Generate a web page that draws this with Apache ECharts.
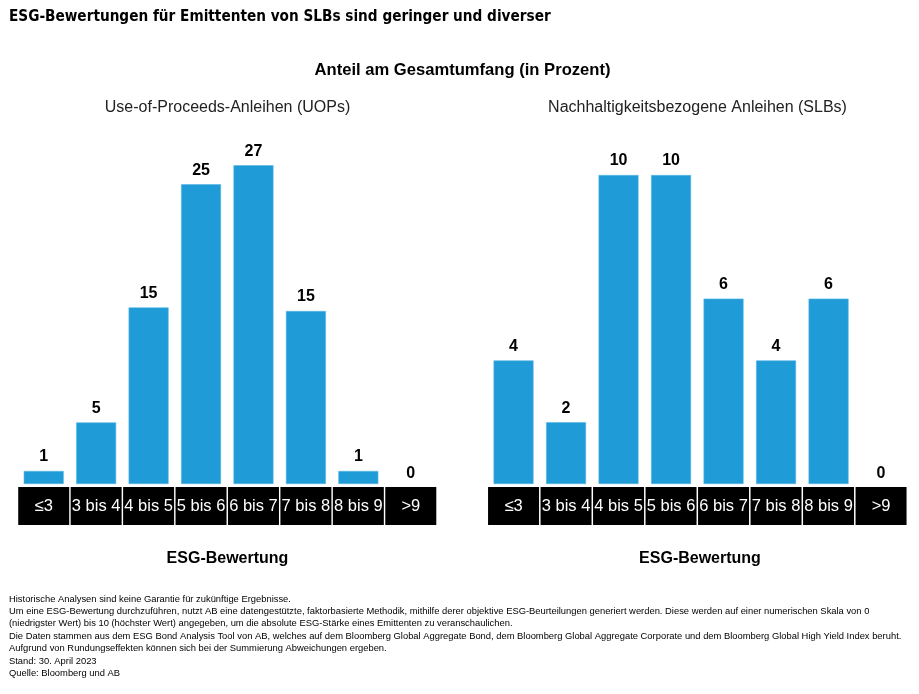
<!DOCTYPE html>
<html><head><meta charset="utf-8">
<script src="https://cdn.jsdelivr.net/npm/echarts@6/dist/echarts.min.js"></script>
<style>html,body{margin:0;padding:0;background:#fff}#c{width:919px;height:694px}</style>
</head><body><div id="c"></div>
<script>
const categories = ['≤3','3 bis 4','4 bis 5','5 bis 6','6 bis 7','7 bis 8','8 bis 9','>9'];
const uopValues = [1.1, 5.2, 14.9, 25.3, 26.9, 14.6, 1.1, 0];
const slbValues = [4, 2, 10, 10, 6, 4, 6, 0];
const footnotes = [
  'Historische Analysen sind keine Garantie für zukünftige Ergebnisse.',
  'Um eine ESG-Bewertung durchzuführen, nutzt AB eine datengestützte, faktorbasierte Methodik, mithilfe derer objektive ESG-Beurteilungen generiert werden. Diese werden auf einer numerischen Skala von 0',
  '(niedrigster Wert) bis 10 (höchster Wert) angegeben, um die absolute ESG-Stärke eines Emittenten zu veranschaulichen.',
  'Die Daten stammen aus dem ESG Bond Analysis Tool von AB, welches auf dem Bloomberg Global Aggregate Bond, dem Bloomberg Global Aggregate Corporate und dem Bloomberg Global High Yield Index beruht.',
  'Aufgrund von Rundungseffekten können sich bei der Summierung Abweichungen ergeben.',
  'Stand: 30. April 2023',
  'Quelle: Bloomberg und AB'
];

const chart = echarts.init(document.getElementById('c'), null, {renderer:'canvas'});
const barColor = '#1f9bd7';
const sans = '"Liberation Sans", Arial, sans-serif';

function xAxis(idx){
  return {
    type:'category', gridIndex:idx, data:categories,
    axisLine:{show:false}, axisTick:{show:false},
    axisLabel:{
      interval:0, margin:3, color:'#fff', backgroundColor:'#000',
      width:51, height:38, lineHeight:38, padding:0, align:'center',
      overflow:'none', fontSize:16.5, fontFamily:sans
    }
  };
}
function yAxis(idx, max){
  return {type:'value', gridIndex:idx, min:0, max:max, show:false, splitLine:{show:false}};
}
function series(idx, data){
  return {
    type:'bar', xAxisIndex:idx, yAxisIndex:idx, barWidth:40,
    data:data.map(v => ({value:v, itemStyle:{borderWidth: v > 0 ? 0.6 : 0}, label:{distance: v > 0 ? 6 : 2}})),
    itemStyle:{color:barColor, borderColor:'#5ab7e4'},
    label:{show:true, position:'top', distance:6, color:'#000', fontWeight:'bold', fontSize:16, fontFamily:sans,
      formatter:p => String(Math.round(p.value))},
    silent:true
  };
}

const graphic = [
  {type:'text', left:9, top:9.5, style:{text:'ESG-Bewertungen für Emittenten von SLBs sind geringer und diverser', font:'bold 15.2px "DejaVu Sans Condensed", "DejaVu Sans", sans-serif', fill:'#000'}},
  {type:'text', x:462.5, y:70, style:{text:'Anteil am Gesamtumfang (in Prozent)', font:'bold 16.6px '+sans, fill:'#000', textAlign:'center', textVerticalAlign:'middle'}},
  {type:'text', x:227.5, y:108, style:{text:'Use-of-Proceeds-Anleihen (UOPs)', font:'16px '+sans, fill:'#222', textAlign:'center', textVerticalAlign:'middle'}},
  {type:'text', x:697.5, y:108, style:{text:'Nachhaltigkeitsbezogene Anleihen (SLBs)', font:'16px '+sans, fill:'#222', textAlign:'center', textVerticalAlign:'middle'}},
  {type:'text', x:227.5, y:559, style:{text:'ESG-Bewertung', font:'bold 16px '+sans, fill:'#000', textAlign:'center', textVerticalAlign:'middle'}},
  {type:'text', x:700, y:559, style:{text:'ESG-Bewertung', font:'bold 16px '+sans, fill:'#000', textAlign:'center', textVerticalAlign:'middle'}}
];
footnotes.forEach((t,i)=>{
  graphic.push({type:'text', x:9, y:599 + i*12.4, style:{text:t, font:'9.4px '+sans, fill:'#000', textVerticalAlign:'middle'}});
});

chart.setOption({
  animation:false,
  grid:[
    {left:17.5, width:419.5, top:128.5, bottom:210},
    {left:487.3, width:420, top:113.2, bottom:210}
  ],
  xAxis:[xAxis(0), xAxis(1)],
  yAxis:[yAxis(0,30), yAxis(1,12)],
  series:[series(0,uopValues), series(1,slbValues)],
  graphic:graphic
});
</script></body></html>
